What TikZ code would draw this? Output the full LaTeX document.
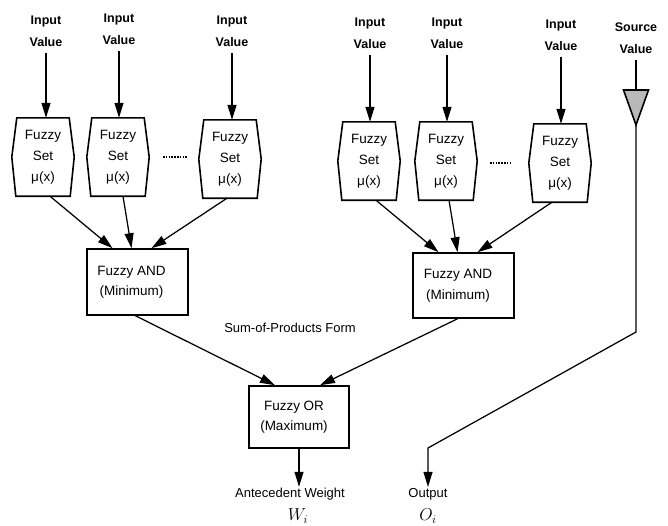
\documentclass[tikz,border=0pt]{standalone}
\usepackage{fontspec}
\setmainfont{Liberation Sans}
\usetikzlibrary{arrows.meta}
\begin{document}
\begin{tikzpicture}[x=1pt,y=-1pt,
  lbl/.style={font=\fontsize{12.5}{22}\selectfont\bfseries, align=center, inner sep=1pt},
  fset/.style={minimum width=62pt, minimum height=78pt, inner sep=0pt, align=center,
               font=\fontsize{13.5}{21}\selectfont},
  hexline/.style={line width=1.6pt, line join=miter},
  opbox/.style={draw, line width=1.6pt, align=center, inner sep=0pt,
                font=\fontsize{13.5}{20.5}\selectfont},
  conn/.style={line width=1.25pt, -{Triangle[length=15pt,width=9pt]}},
  plain/.style={line width=1.25pt},
  txt/.style={font=\fontsize{13}{16}\selectfont, inner sep=1pt},
  mathlbl/.style={font=\fontsize{17}{20}\selectfont, inner sep=1pt},
  dotsline/.style={line width=1.6pt, dash pattern=on 1.6pt off 1.2pt},
]
\useasboundingbox (0,0) rectangle (668,525);

% input labels
\node[lbl] (iv1) at (46,31)  {Input\\Value};
\node[lbl] (iv2) at (119,29) {Input\\Value};
\node[lbl] (iv3) at (232,31) {Input\\Value};
\node[lbl] (iv4) at (370,33) {Input\\Value};
\node[lbl] (iv5) at (447,33) {Input\\Value};
\node[lbl] (iv6) at (561,35) {Input\\Value};
\node[lbl] (src) at (636,38) {Source\\Value};

% fuzzy set blocks
\node[fset] (s1) at (43,157)  {Fuzzy\\Set\\μ(x)};
\node[fset] (s2) at (118,157) {Fuzzy\\Set\\μ(x)};
\node[fset] (s3) at (230,159) {Fuzzy\\Set\\μ(x)};
\node[fset] (s4) at (369,161) {Fuzzy\\Set\\μ(x)};
\node[fset] (s5) at (446,161) {Fuzzy\\Set\\μ(x)};
\node[fset] (s6) at (560,163) {Fuzzy\\Set\\μ(x)};
\foreach \n in {s1,s2,s3,s4,s5,s6}
  \draw[hexline] ([xshift=5pt]\n.north west) -- ([xshift=-5pt]\n.north east)
    -- (\n.east) -- ([xshift=-4pt]\n.south east) -- ([xshift=4pt]\n.south west)
    -- (\n.west) -- cycle;

% ellipses between the blocks
\draw[dotsline] (163,157) -- (187,157);
\draw[dotsline] (490,163) -- (512,163);

% operator boxes
\node[opbox, minimum width=101pt, minimum height=66pt] (andL) at (137.5,282)
  {Fuzzy AND\hspace*{12pt}\\(Minimum)\hspace*{12pt}};
\node[opbox, minimum width=101pt, minimum height=65pt] (andR) at (463.5,285.5)
  {Fuzzy AND\hspace*{11pt}\\(Minimum)\hspace*{11pt}};
\node[opbox, minimum width=100pt, minimum height=62pt] (orb) at (299,417)
  {Fuzzy OR\hspace*{10pt}\\(Maximum)\hspace*{10pt}};

\node[txt] (sop) at (290,328) {Sum-of-Products Form};

% outputs
\node[txt] (aw) at (290,494) {Antecedent Weight};
\node[mathlbl] (wi) at (298,516) {$W_i$};
\node[txt] (out) at (428,494) {Output};
\node[mathlbl] (oi) at (428,516) {$O_i$};

% input arrows
\foreach \i/\s in {iv1/s1,iv2/s2,iv3/s3,iv4/s4,iv5/s5,iv6/s6}
  \draw[conn, shorten <=5pt] (\i.south) -- (\i.south |- \s.north);

% fuzzy sets into the AND boxes
\draw[conn] ([xshift=7pt]s1.south) -- ([xshift=-25pt]andL.north);
\draw[conn] ([xshift=5pt]s2.south) -- ([xshift=-6pt]andL.north);
\draw[conn] ([xshift=-3pt]s3.south) -- ([xshift=14pt]andL.north);
\draw[conn] ([xshift=7pt]s4.south) -- ([xshift=-25pt]andR.north);
\draw[conn] ([xshift=3pt]s5.south) -- ([xshift=-6pt]andR.north);
\draw[conn] ([xshift=-8pt]s6.south) -- ([xshift=14pt]andR.north);

% AND boxes into the OR box
\draw[conn] ([xshift=-2pt]andL.south) -- ([xshift=-24pt]orb.north);
\draw[conn] ([xshift=-6pt]andR.south) -- ([xshift=21pt]orb.north);

% OR box to the antecedent weight
\draw[conn] (orb.south) -- (orb.south |- aw.north);

% source value path
\coordinate (tritop) at (636,90);
\coordinate (triapex) at (636,125);
\coordinate (bendA) at (636,332);
\coordinate (bendB) at (428,448);
\draw[plain, shorten <=5pt] (src.south) -- (tritop);
\draw[line width=1.6pt, fill=gray!55, line join=miter]
  (623.5,90) -- (648.5,90) -- (triapex) -- cycle;
\draw[conn] (triapex) -- (bendA) -- (bendB) -- (bendB |- out.north);
\end{tikzpicture}
\end{document}
